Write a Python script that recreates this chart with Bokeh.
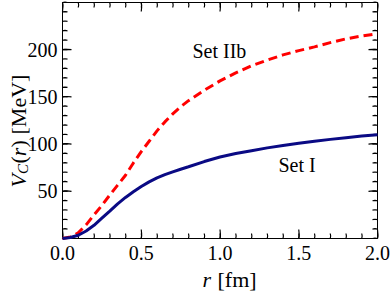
import math
from bokeh.plotting import figure
from bokeh.models import Label, Range1d
from bokeh.embed import file_html
from bokeh.resources import INLINE

# ---- data ----
r = [0, 0.05, 0.1, 0.15, 0.2, 0.25, 0.3, 0.35, 0.4, 0.45, 0.5, 0.55, 0.6, 0.65,
     0.7, 0.75, 0.8, 0.9, 1.0, 1.1, 1.2, 1.3, 1.4, 1.5, 1.6, 1.7, 1.8, 1.9, 2.0]
set_i = [0, 1, 3.5, 8, 14, 21.5, 29, 36.7, 43.5, 49.5, 55, 60, 64.2, 67.6,
         70.6, 73.4, 76, 81.5, 86.3, 90, 93, 96, 98.5, 100.8, 103, 105, 106.8,
         108.5, 110]
set_iib = [0, 1.5, 6, 14.5, 25, 35, 46, 56.5, 67, 80, 92, 103, 114, 123.5, 132,
           139.5, 146, 157, 167, 175.5, 183, 189, 194.5, 199, 203, 207.5, 211.5,
           214.5, 217]

x_ticks = [0, 0.5, 1.0, 1.5, 2.0]
x_tick_labels = ["0.0", "0.5", "1.0", "1.5", "2.0"]
x_minor = [i / 10 for i in range(0, 21)]
y_ticks = [50, 100, 150, 200]
y_tick_labels = ["50", "100", "150", "200"]
y_minor = list(range(0, 251, 10))

# axis limits of the plotting box
x_lo, x_hi = 0.0, 2.0
y_lo, y_hi = 0.0, 250.0

FONT = "Liberation Serif"
W, H = 390, 299
# pixel placement of the plotting box inside the canvas
BL, BR, BT, BB = 62, 377, 2, 238

xpp = (x_hi - x_lo) / (BR - BL)
ypp = (y_hi - y_lo) / (BB - BT)
x_range = Range1d(x_lo - BL * xpp, x_hi + (W - BR) * xpp)
y_range = Range1d(y_lo - (H - BB) * ypp, y_hi + BT * ypp)

p = figure(width=W, height=H, output_backend="svg", toolbar_location=None,
           x_range=x_range, y_range=y_range,
           x_axis_location=None, y_axis_location=None, min_border=0)
p.grid.visible = False
p.outline_line_color = None
p.background_fill_color = "white"
p.border_fill_color = "white"

# plotting box
p.quad(left=[x_lo], right=[x_hi], bottom=[y_lo], top=[y_hi],
       fill_color=None, line_color="black", line_width=1)

# inward ticks on all four sides (lengths in pixels); each tick is a thin
# polyline with a tiny sideways step so its bounding box is never zero-width
MINOR, MAJOR = 5, 9
EPS = 0.4  # px
xs, ys = [], []
for ticks, ln in ((x_minor, MINOR), (x_ticks, MAJOR)):
    for t in ticks:
        xs.append([t, t + EPS * xpp, t])
        ys.append([y_lo, y_lo + ln / 2 * ypp, y_lo + ln * ypp])
        xs.append([t, t + EPS * xpp, t])
        ys.append([y_hi, y_hi - ln / 2 * ypp, y_hi - ln * ypp])
for ticks, ln in ((y_minor, MINOR), (y_ticks, MAJOR)):
    for t in ticks:
        xs.append([x_lo, x_lo + ln / 2 * xpp, x_lo + ln * xpp])
        ys.append([t, t + EPS * ypp, t])
        xs.append([x_hi, x_hi - ln / 2 * xpp, x_hi - ln * xpp])
        ys.append([t, t + EPS * ypp, t])
p.multi_line(xs=xs, ys=ys, line_color="black", line_width=1.2)

# tick labels
p.text(x=x_ticks, y=[y_lo] * len(x_ticks), text=x_tick_labels, y_offset=7,
       text_align="center", text_baseline="top", text_font_size="20px",
       text_font={"value": FONT}, text_color="black")
p.text(x=[x_lo] * len(y_ticks), y=y_ticks, text=y_tick_labels, x_offset=-5,
       text_align="right", text_baseline="middle", text_font_size="20px",
       text_font={"value": FONT}, text_color="black")

# curves
p.line(r, set_iib, line_color="#ff0000", line_width=3, line_dash="9 5")
p.line(r, set_i, line_color="#0a0a84", line_width=3)

# curve labels
p.add_layout(Label(x=0.825, y=199, text="Set IIb", text_font=FONT,
                   text_color="black", text_font_size="20px",
                   text_baseline="alphabetic"))
p.add_layout(Label(x=1.371, y=77.7, text="Set I", text_font=FONT,
                   text_color="black", text_font_size="20px",
                   text_baseline="alphabetic"))

# x axis label: r [fm]  (screen units: from bottom-left of canvas)
p.add_layout(Label(x=202, y=H - 279, x_units="screen", y_units="screen",
                   text="r", text_color="black", text_font=FONT,
                   text_font_style="italic", text_font_size="22px",
                   text_baseline="alphabetic"))
p.add_layout(Label(x=217, y=H - 279, x_units="screen", y_units="screen",
                   text="[fm]", text_color="black", text_font=FONT,
                   text_font_size="22px", text_baseline="alphabetic"))

# y axis label: V_C(r) [MeV], rotated
A = math.pi / 2
y0 = H - 187
pieces = [("V", "italic", "22px", 18, 0),
          ("C", "italic", "15px", 22, 13.5),
          ("(", "normal", "22px", 18, 24),
          ("r", "italic", "22px", 18, 31.3),
          (")", "normal", "22px", 18, 40),
          ("[MeV]", "normal", "22px", 18, 53)]
for txt, st, sz, bx, dy in pieces:
    p.add_layout(Label(x=bx, y=y0 + dy, x_units="screen", y_units="screen",
                       text=txt, text_color="black", text_font=FONT,
                       text_font_style=st, text_font_size=sz,
                       text_baseline="alphabetic", angle=A))

open("out.html", "w").write(file_html(p, INLINE))
